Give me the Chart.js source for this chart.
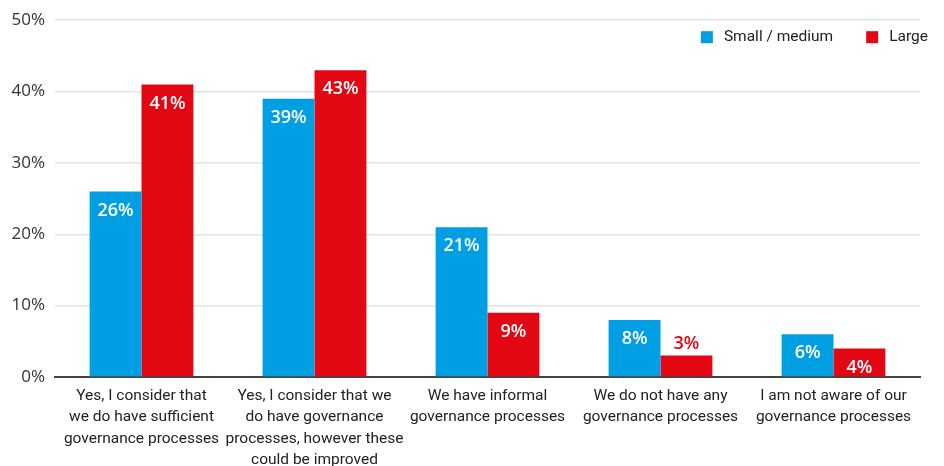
<!DOCTYPE html>
<html lang="en">
<head>
  <meta charset="UTF-8" />
  <title>Governance processes by company size</title>
  <script src="https://cdn.jsdelivr.net/npm/chart.js"></script>
  <style>
    * { margin: 0; padding: 0; box-sizing: border-box; }
    body { background: #fff; width: 944px; height: 466px; overflow: hidden; }
    #wrap { position: relative; width: 944px; height: 466px; }
  </style>
</head>
<body>
  <div id="wrap"><canvas id="chart" width="944" height="466"></canvas></div>

  <script>
    const categories = [
      ['Yes, I consider that', 'we do have sufficient', 'governance processes'],
      ['Yes, I consider that we', 'do have governance', 'processes, however these', 'could be improved'],
      ['We have informal', 'governance processes'],
      ['We do not have any', 'governance processes'],
      ['I am not aware of our', 'governance processes']
    ];
    const smallMedium = [26, 39, 21, 8, 6];
    const large = [41, 43, 9, 3, 4];
    const seriesNames = ['Small / medium', 'Large'];
    const yTicks = [0, 10, 20, 30, 40, 50];

    const BLUE = '#009fe3';
    const RED = '#e30613';
    const narrow = "Roboto, 'Liberation Sans Narrow', sans-serif";

    // value labels: inside the bar near the top, above it when the bar is too short
    const valueLabels = {
      id: 'valueLabels',
      afterDatasetsDraw(chart) {
        const ctx = chart.ctx;
        ctx.save();
        ctx.font = "600 18px 'Open Sans', sans-serif";
        ctx.textAlign = 'center';
        ctx.textBaseline = 'middle';
        chart.data.datasets.forEach((ds, i) => {
          chart.getDatasetMeta(i).data.forEach((bar, j) => {
            const h = bar.base - bar.y;
            const txt = ds.data[j] + '%';
            if (h < 25) {
              ctx.fillStyle = ds.backgroundColor;
              ctx.fillText(txt, bar.x, bar.y - 12);
            } else {
              ctx.fillStyle = '#fff';
              ctx.fillText(txt, bar.x, bar.y + 19);
            }
          });
        });
        ctx.restore();
      }
    };

    // legend drawn in the top right of the plot
    const cornerLegend = {
      id: 'cornerLegend',
      afterDraw(chart) {
        const ctx = chart.ctx;
        const right = chart.chartArea.right + 8;
        const y = chart.chartArea.top + 17;
        ctx.save();
        ctx.font = '15.5px ' + narrow;
        ctx.textBaseline = 'middle';
        let x = right;
        const items = chart.data.datasets.slice().reverse();
        items.forEach(ds => {
          const w = ctx.measureText(ds.label).width;
          x -= w;
          ctx.fillStyle = '#222';
          ctx.fillText(ds.label, x, y);
          x -= 11 + 12;
          ctx.fillStyle = ds.backgroundColor;
          ctx.fillRect(x, y - 6, 12, 12);
          x -= 33;
        });
        ctx.restore();
      }
    };

    new Chart(document.getElementById('chart'), {
      type: 'bar',
      data: {
        labels: categories,
        datasets: [
          { label: seriesNames[0], data: smallMedium, backgroundColor: BLUE },
          { label: seriesNames[1], data: large, backgroundColor: RED }
        ]
      },
      options: {
        responsive: false,
        animation: false,
        layout: { padding: { top: 5, right: 24, left: 0, bottom: 0 } },
        categoryPercentage: 0.6,
        barPercentage: 1.0,
        plugins: {
          legend: { display: false },
          tooltip: { enabled: false }
        },
        scales: {
          x: {
            grid: { display: false, drawTicks: false },
            border: { color: '#444', width: 2 },
            ticks: {
              color: '#222',
              font: { family: narrow, size: 15.5, lineHeight: 1.36 },
              padding: 9,
              maxRotation: 0,
              autoSkip: false
            },
            afterFit(axis) { axis.height = 89; }
          },
          y: {
            min: 0,
            max: 50,
            afterBuildTicks(axis) { axis.ticks = yTicks.map(v => ({ value: v })); },
            grid: {
              color: ctx => ctx.tick.value === 0 ? 'rgba(0,0,0,0)' : '#e3e3e3',
              lineWidth: 1.5,
              drawTicks: false
            },
            border: { display: false },
            ticks: {
              color: '#333',
              font: { family: "'Open Sans', sans-serif", size: 17 },
              padding: 10,
              callback: v => v + '%'
            },
            afterFit(axis) { axis.width = 55; }
          }
        }
      },
      plugins: [valueLabels, cornerLegend]
    });
  </script>
</body>
</html>
